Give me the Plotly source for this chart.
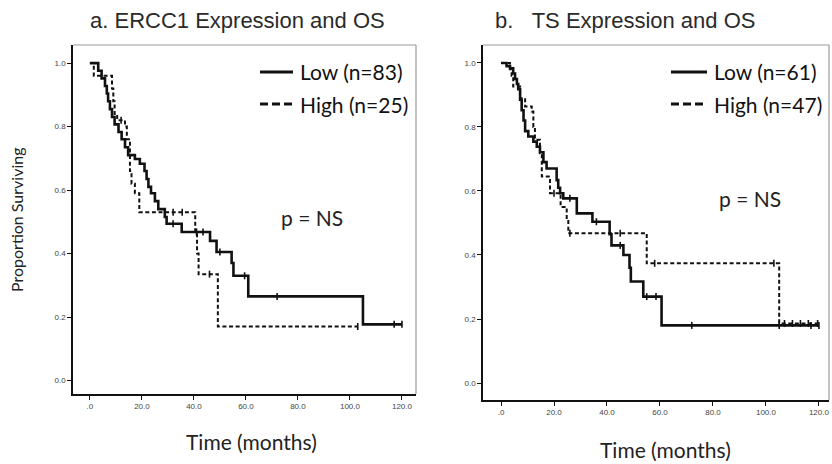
import plotly.graph_objects as go

W, H = 832, 464

# ---------------- data ----------------
# Panel a: ERCC1
low_a_t = [0, 3.2, 4.5, 5.8, 6.5, 7.0, 7.7, 8.5, 9.5, 11.0, 12.2, 13.5, 14.7, 17.3, 19.2, 21.0,
           21.8, 22.5, 23.5, 25.0, 26.3, 28.8, 29.5, 35.3, 46.2, 48.7, 54.5, 55.2, 60.9, 105.0]
low_a_s = [1.0, 0.976, 0.952, 0.928, 0.904, 0.88, 0.855, 0.83, 0.807, 0.783, 0.76, 0.735, 0.71,
           0.698, 0.683, 0.66, 0.635, 0.61, 0.59, 0.565, 0.54, 0.515, 0.494, 0.468, 0.44, 0.405,
           0.37, 0.33, 0.265, 0.177]
low_a_end = 120.0
low_a_cens = [32, 41, 43.5, 50, 59.5, 72, 117, 120]

high_a_t = [0, 1.5, 8.5, 9.0, 9.5, 10.5, 13.5, 14.2, 15.4, 16.0, 17.3, 19.0, 40.5, 41.2, 41.8, 49.2]
high_a_s = [1.0, 0.96, 0.92, 0.88, 0.84, 0.82, 0.80, 0.76, 0.66, 0.62, 0.59, 0.53, 0.47, 0.40,
            0.335, 0.17]
high_a_end = 103.0
high_a_cens = [12, 32, 35.5, 46, 103]

# Panel b: TS
low_b_t = [0, 2.1, 3.4, 4.6, 5.3, 6.0, 6.5, 7.2, 7.8, 8.5, 9.1, 10.3, 12.2, 13.5, 14.7, 16.0, 17.2,
           21.0, 21.6, 22.3, 23.5, 28.6, 34.5, 41.0, 41.7, 46.2, 48.5, 49.0, 53.7, 60.6]
low_b_s = [1.0, 0.99, 0.983, 0.967, 0.95, 0.934, 0.918, 0.885, 0.852, 0.82, 0.787, 0.77, 0.754,
           0.738, 0.721, 0.69, 0.67, 0.634, 0.61, 0.593, 0.577, 0.53, 0.504, 0.465, 0.43, 0.40,
           0.36, 0.317, 0.27, 0.18]
low_b_end = 120.0
low_b_cens = [26, 36, 45, 55, 58.5, 72, 105, 117, 120]

high_b_t = [0, 3.4, 4.0, 4.6, 7.2, 9.1, 11.6, 12.2, 12.8, 14.7, 15.4, 18.5, 22.5, 24.8, 25.4, 55.0, 105.0]
high_b_s = [1.0, 0.98, 0.96, 0.926, 0.89, 0.864, 0.848, 0.80, 0.76, 0.718, 0.645, 0.593, 0.55,
            0.51, 0.468, 0.374, 0.186]
high_b_end = 119.5
high_b_cens = [20, 26, 45, 58, 103, 107, 110, 113, 116, 119.5]

x_ticks = [0, 20, 40, 60, 80, 100, 120]
x_ticktext = [".0", "20.0", "40.0", "60.0", "80.0", "100.0", "120.0"]
y_ticks = [0.0, 0.2, 0.4, 0.6, 0.8, 1.0]
y_ticktext = ["0.0", "0.2", "0.4", "0.6", "0.8", "1.0"]

titles = ["a. ERCC1 Expression and OS", "b.\u00a0\u00a0\u00a0TS Expression and OS"]
legend_a = ["Low (n=83)", "High (n=25)"]
legend_b = ["Low (n=61)", "High (n=47)"]


def surv_at(ts, ss, t):
    v = ss[0]
    for ti, si in zip(ts, ss):
        if ti <= t:
            v = si
    return v


fig = go.Figure()

BLACK = "#111111"
DASH = "4px,2.6px"


def add_curve(ts, ss, end, cens, dashed, xa, ya):
    xs = list(ts) + [end]
    ys = list(ss) + [ss[-1]]
    fig.add_trace(go.Scatter(
        x=xs, y=ys, mode="lines", line_shape="hv",
        line=dict(color=BLACK, width=2.0 if dashed else 2.6, dash=DASH if dashed else "solid"),
        xaxis=xa, yaxis=ya, showlegend=False, hoverinfo="skip"))
    fig.add_trace(go.Scatter(
        x=cens, y=[surv_at(ts, ss, c) for c in cens], mode="markers",
        marker=dict(symbol="line-ns-open", size=5, color=BLACK,
                    line=dict(color=BLACK, width=1.6)),
        xaxis=xa, yaxis=ya, showlegend=False, hoverinfo="skip"))


add_curve(low_a_t, low_a_s, low_a_end, low_a_cens, False, "x", "y")
add_curve(high_a_t, high_a_s, high_a_end, high_a_cens, True, "x", "y")
add_curve(low_b_t, low_b_s, low_b_end, low_b_cens, False, "x2", "y2")
add_curve(high_b_t, high_b_s, high_b_end, high_b_cens, True, "x2", "y2")


def px_x(p):
    return p / W


def px_y(p):
    return 1 - p / H


axis_common = dict(showgrid=False, zeroline=False, showline=True, linecolor=BLACK, linewidth=1.5,
                   ticks="outside", ticklen=4, tickwidth=1, tickcolor=BLACK,
                   tickfont=dict(family="Liberation Sans", size=8, color="#444444"))

fig.update_layout(
    width=W, height=H, autosize=False,
    margin=dict(l=0, r=0, t=0, b=0),
    paper_bgcolor="white", plot_bgcolor="white",
    xaxis=dict(domain=[px_x(73), px_x(416)], range=[-6.5, 125.4], anchor="y",
               tickvals=x_ticks, ticktext=x_ticktext, **axis_common),
    yaxis=dict(domain=[px_y(394), px_y(45)], range=[-0.0425, 1.057], anchor="x",
               tickvals=y_ticks, ticktext=y_ticktext, **axis_common),
    xaxis2=dict(domain=[px_x(483), px_x(829)], range=[-6.8, 123.8], anchor="y2",
                tickvals=x_ticks, ticktext=x_ticktext, **axis_common),
    yaxis2=dict(domain=[px_y(400), px_y(45)], range=[-0.053, 1.056], anchor="x2",
                tickvals=y_ticks, ticktext=y_ticktext, **axis_common),
)

shapes = []
# grey frames (top/right)
for xr, yr in (("x domain", "y domain"), ("x2 domain", "y2 domain")):
    shapes.append(dict(type="line", xref=xr, yref=yr, x0=0, x1=1, y0=1, y1=1,
                       line=dict(color="#9a9a9a", width=1.2)))
    shapes.append(dict(type="line", xref=xr, yref=yr, x0=1, x1=1, y0=0, y1=1,
                       line=dict(color="#9a9a9a", width=1.2)))

annotations = []
title_font = dict(family="Liberation Sans", size=22, color="#2a2a2a")
label_font = dict(family="Lato", size=21, color="#222222")
legend_font = dict(family="Lato", size=21, color="#111111")

annotations.append(dict(text=titles[0], x=px_x(237), y=px_y(21), xref="paper", yref="paper",
                        showarrow=False, font=title_font, xanchor="center", yanchor="middle"))
annotations.append(dict(text=titles[1], x=px_x(625), y=px_y(21), xref="paper", yref="paper",
                        showarrow=False, font=title_font, xanchor="center", yanchor="middle"))
annotations.append(dict(text="Time (months)", x=px_x(251), y=px_y(441), xref="paper", yref="paper",
                        showarrow=False, font=label_font, xanchor="center", yanchor="middle"))
annotations.append(dict(text="Time (months)", x=px_x(665), y=px_y(449), xref="paper", yref="paper",
                        showarrow=False, font=label_font, xanchor="center", yanchor="middle"))
annotations.append(dict(text="Proportion Surviving", x=px_x(16), y=px_y(220), xref="paper",
                        yref="paper", showarrow=False, textangle=-90,
                        font=dict(family="Lato", size=16, color="#222222"),
                        xanchor="center", yanchor="middle"))
annotations.append(dict(text="p = NS", x=px_x(312), y=px_y(217), xref="paper", yref="paper",
                        showarrow=False, font=label_font, xanchor="center", yanchor="middle"))
annotations.append(dict(text="p = NS", x=px_x(750), y=px_y(198), xref="paper", yref="paper",
                        showarrow=False, font=label_font, xanchor="center", yanchor="middle"))

# manual legends
for (x0, x1, tx), labels in (((260, 293, 298), legend_a), ((671, 707, 712), legend_b)):
    for i, (lab, yy) in enumerate(zip(labels, (72, 104))):
        shapes.append(dict(type="line", xref="paper", yref="paper",
                           x0=px_x(x0), x1=px_x(x1), y0=px_y(yy), y1=px_y(yy),
                           line=dict(color=BLACK, width=3,
                                     dash="solid" if i == 0 else "8px,4px")))
        annotations.append(dict(text=lab, x=px_x(tx), y=px_y(yy), xref="paper", yref="paper",
                                showarrow=False, font=legend_font, xanchor="left",
                                yanchor="middle"))

fig.update_layout(shapes=shapes, annotations=annotations)

fig.write_html("out.html", config={"displayModeBar": False},
               post_script="document.body.style.margin='0';document.body.style.overflow='hidden';")
